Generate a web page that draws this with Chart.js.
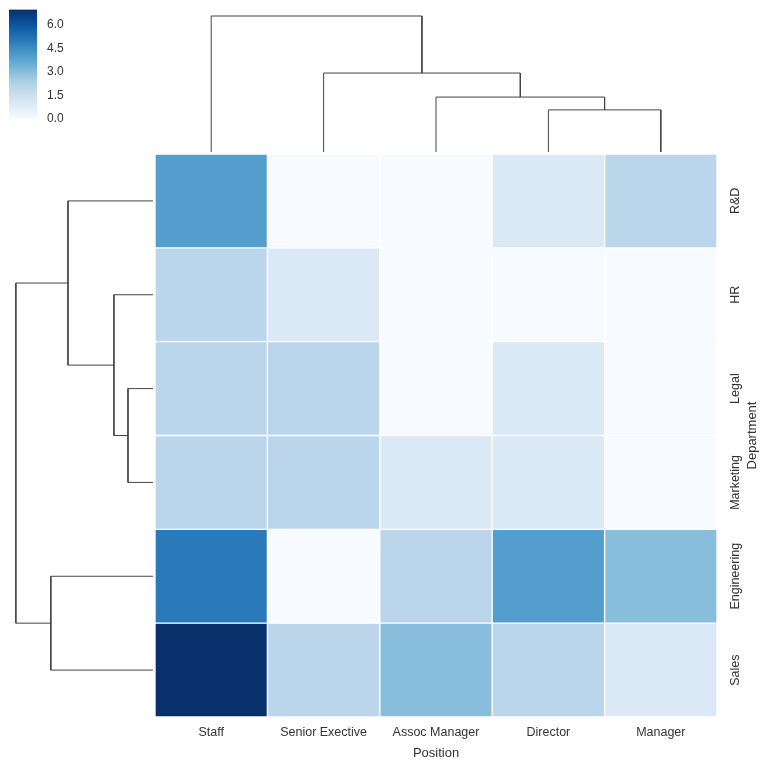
<!DOCTYPE html>
<html><head><meta charset="utf-8">
<script src="https://cdn.jsdelivr.net/npm/chart.js@4/dist/chart.umd.min.js"></script>
<style>
html,body{margin:0;padding:0;background:#fff;}
#wrap{position:relative;width:768px;height:768px;overflow:hidden;background:#fff;}
#wrap canvas{position:absolute;}
</style></head><body>
<div id="wrap">
<canvas id="main" width="768" height="768" style="left:0;top:0"></canvas>
<canvas id="coldend" width="562" height="154" style="left:155px;top:0"></canvas>
<canvas id="rowdend" width="155" height="563" style="left:0;top:154px"></canvas>
<canvas id="cbar" width="80" height="130" style="left:0;top:0"></canvas>
</div>
<script>
// ---- data ----
const positions = ['Staff', 'Senior Exective', 'Assoc Manager', 'Director', 'Manager'];
const departments = ['R&D', 'HR', 'Legal', 'Marketing', 'Engineering', 'Sales'];
const rdValues          = [4, 0, 0, 1, 2];
const hrValues          = [2, 1, 0, 0, 0];
const legalValues       = [2, 2, 0, 1, 0];
const marketingValues   = [2, 2, 1, 1, 0];
const engineeringValues = [5, 0, 2, 4, 3];
const salesValues       = [7, 2, 3, 2, 1];
const colorbarTicks = [0, 1.5, 3, 4.5, 6];
// linkage: [childA, childB, height]; leaves numbered in display order
const colLinkage = [[3, 4, 2.4], [2, 5, 3.13], [1, 6, 4.5], [0, 7, 7.75]];
const rowLinkage = [[2, 3, 1.46], [1, 6, 2.28], [0, 7, 4.96], [4, 5, 5.96], [8, 9, 8.0]];

const rows = [rdValues, hrValues, legalValues, marketingValues, engineeringValues, salesValues];
const vmax = Math.max(...rows.flat());
const TEXT = '#333333';
const FONT = "'Liberation Sans', Arial, sans-serif";
const LINE = '#444444';

const BLUES = ['#f7fbff','#deebf7','#c6dbef','#9ecae1','#6baed6','#4292c6','#2171b5','#08519c','#08306b'];
function hex(h){return [parseInt(h.slice(1,3),16),parseInt(h.slice(3,5),16),parseInt(h.slice(5,7),16)];}
function blues(t){
  t = Math.max(0, Math.min(1, t));
  const s = t * 8; const i = Math.min(7, Math.floor(s)); const f = s - i;
  const a = hex(BLUES[i]), b = hex(BLUES[i+1]);
  const c = a.map((v,k)=>Math.round(v + (b[k]-v)*f));
  return `rgb(${c[0]},${c[1]},${c[2]})`;
}

// ---- heatmap ----
const rightLabels = {
  id: 'rightLabels',
  afterDraw(chart){
    const ctx = chart.ctx, ys = chart.scales.y, area = chart.chartArea;
    ctx.save();
    ctx.fillStyle = TEXT;
    ctx.textAlign = 'center';
    ctx.textBaseline = 'alphabetic';
    ctx.font = `12.5px ${FONT}`;
    departments.forEach((d,i)=>{
      const yc = ys.getPixelForValue(i + 0.5);
      ctx.save(); ctx.translate(739, yc); ctx.rotate(-Math.PI/2); ctx.fillText(d, 0, 0); ctx.restore();
    });
    ctx.font = `13px ${FONT}`;
    ctx.save(); ctx.translate(756, (area.top + area.bottom)/2); ctx.rotate(-Math.PI/2); ctx.fillText('Department', 0, 0); ctx.restore();
    ctx.restore();
  }
};

new Chart(document.getElementById('main'), {
  type: 'bar',
  data: {
    labels: positions,
    datasets: rows.map((vals, i) => ({
      label: departments[i],
      data: vals.map(() => 1),
      backgroundColor: vals.map(v => blues(v / vmax)),
      borderColor: '#ffffff',
      borderWidth: 1,
      borderSkipped: false,
      barPercentage: 1,
      categoryPercentage: 1
    }))
  },
  options: {
    responsive: false, animation: false,
    layout: { padding: { left: 155, top: 154, right: 51, bottom: 0 } },
    plugins: { legend: { display: false }, tooltip: { enabled: false } },
    scales: {
      x: {
        stacked: true,
        grid: { display: false, drawTicks: false },
        border: { display: false },
        ticks: { color: TEXT, font: { family: FONT, size: 12.5 }, padding: 8.5, maxRotation: 0 },
        title: { display: true, text: 'Position', color: TEXT, font: { family: FONT, size: 13 }, padding: { top: 0, bottom: 7 } },
        afterFit(s){ s.height = 51; }
      },
      y: { stacked: true, min: 0, max: 6, reverse: true, display: false }
    }
  },
  plugins: [rightLabels]
});

// ---- dendrograms ----
function buildLinks(linkage, nLeaves, horizontal){
  const pos = [], hgt = [];
  for (let i = 0; i < nLeaves; i++){ pos.push(i + 0.5); hgt.push(0); }
  const sets = [];
  linkage.forEach(([a, b, h]) => {
    const pts = [[pos[a], hgt[a]], [pos[a], h], [pos[b], h], [pos[b], hgt[b]]];
    sets.push({
      data: pts.map(([p, q]) => horizontal ? { x: p, y: q } : { x: q, y: p }),
      showLine: true, pointRadius: 0, borderColor: LINE, borderWidth: 1, tension: 0, clip: false
    });
    pos.push((pos[a] + pos[b]) / 2); hgt.push(h);
  });
  return sets;
}
const colTop = Math.max(...colLinkage.map(l => l[2]));
const rowTop = Math.max(...rowLinkage.map(l => l[2]));

new Chart(document.getElementById('coldend'), {
  type: 'scatter',
  data: { datasets: buildLinks(colLinkage, positions.length, true) },
  options: {
    responsive: false, animation: false,
    layout: { padding: { left: 0, right: 0, top: 9.2, bottom: 2 } },
    plugins: { legend: { display: false }, tooltip: { enabled: false } },
    scales: {
      x: { type: 'linear', min: 0, max: positions.length, display: false },
      y: { type: 'linear', min: 0, max: colTop * 1.05, display: false }
    }
  }
});

new Chart(document.getElementById('rowdend'), {
  type: 'scatter',
  data: { datasets: buildLinks(rowLinkage, departments.length, false) },
  options: {
    responsive: false, animation: false,
    layout: { padding: { left: 9, right: 2, top: 0, bottom: 0 } },
    plugins: { legend: { display: false }, tooltip: { enabled: false } },
    scales: {
      x: { type: 'linear', min: 0, max: rowTop * 1.05, reverse: true, display: false },
      y: { type: 'linear', min: 0, max: departments.length, reverse: true, display: false }
    }
  }
});

// ---- colorbar ----
new Chart(document.getElementById('cbar'), {
  type: 'bar',
  data: {
    labels: [''],
    datasets: [{
      data: [vmax],
      backgroundColor: (c) => {
        const a = c.chart.chartArea;
        if (!a) return BLUES[0];
        const g = c.chart.ctx.createLinearGradient(0, a.bottom, 0, a.top);
        BLUES.forEach((col, i) => g.addColorStop(i / 8, col));
        return g;
      },
      borderWidth: 0,
      barPercentage: 1, categoryPercentage: 1
    }]
  },
  options: {
    responsive: false, animation: false,
    layout: { padding: { left: 9, right: 0, top: 9.5, bottom: 11 } },
    plugins: { legend: { display: false }, tooltip: { enabled: false } },
    scales: {
      x: { display: false },
      y: {
        position: 'right', min: 0, max: vmax,
        grid: { display: false, drawTicks: false },
        border: { display: false },
        afterBuildTicks(s){ s.ticks = colorbarTicks.map(v => ({ value: v })); },
        ticks: { color: TEXT, font: { family: FONT, size: 12 }, padding: 10, callback: v => Number(v).toFixed(1) },
        afterFit(s){ s.width = 43; s.paddingTop = 0; s.paddingBottom = 0; }
      }
    }
  }
});
</script>
</body></html>
